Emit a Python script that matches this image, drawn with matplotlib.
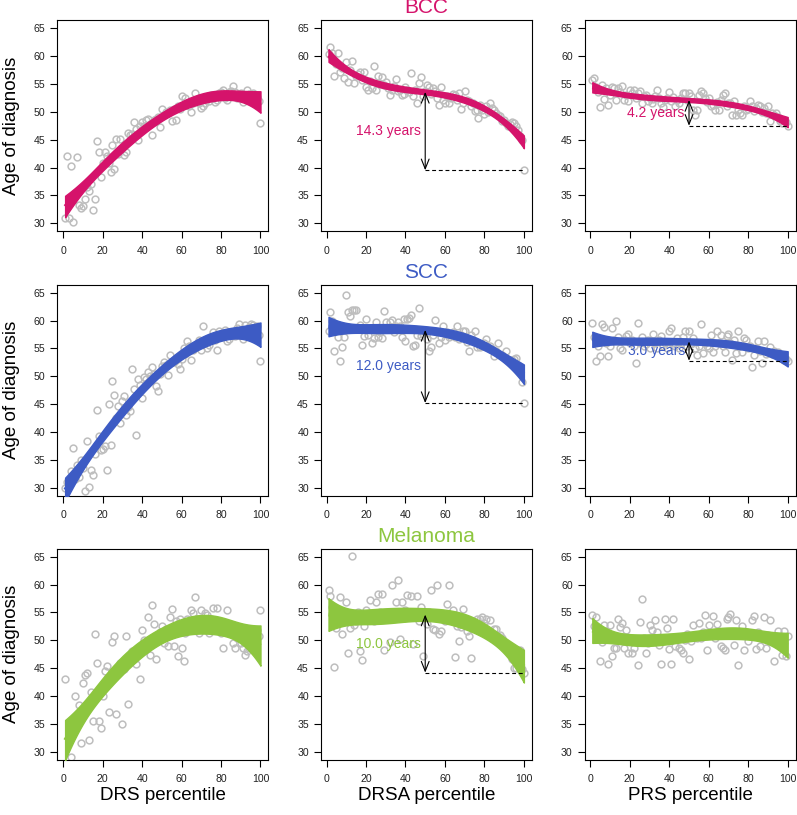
import numpy as np
import matplotlib
matplotlib.use("Agg")
import matplotlib.pyplot as plt

plt.rcParams['font.family'] = ['Liberation Sans', 'DejaVu Sans']

# percentile (x) for every panel
pct = list(range(1, 101))

# mean age of diagnosis per percentile
bcc_drs = [30.9, 42.0, 31.0, 40.3, 30.2, 35.5, 41.8, 33.2, 32.7, 33.0,
           34.4, 36.5, 35.8, 37.0, 32.3, 34.4, 44.8, 42.8, 38.3, 40.8,
           42.8, 42.0, 40.8, 39.2, 44.0, 39.7, 45.2, 42.5, 45.2, 43.5,
           42.2, 42.8, 46.2, 45.8, 46.0, 48.1, 47.0, 45.0, 47.5, 48.2,
           47.5, 48.5, 48.8, 47.8, 45.9, 48.5, 48.8, 49.0, 47.2, 50.5,
           49.5, 50.0, 49.8, 50.3, 48.3, 50.5, 48.5, 51.0, 50.5, 52.8,
           51.2, 52.5, 51.5, 51.0, 50.0, 51.5, 53.3, 52.0, 51.5, 50.6,
           51.0, 51.5, 52.5, 52.0, 53.0, 52.5, 51.8, 52.2, 53.3, 53.6,
           54.0, 52.5, 52.2, 53.5, 53.8, 54.6, 53.5, 52.4, 53.0, 53.3,
           51.8, 53.0, 54.0, 53.2, 52.8, 53.3, 53.0, 52.7, 52.0, 48.0]
bcc_drsa = [60.3, 61.7, 60.5, 56.4, 58.5, 60.5, 57.1, 57.9, 56.0, 58.9,
            55.3, 57.5, 59.2, 55.2, 56.4, 56.8, 57.2, 55.8, 57.1, 54.5,
            54.0, 55.5, 54.2, 58.2, 53.9, 56.4, 55.0, 56.2, 54.8, 55.3,
            54.3, 53.1, 54.0, 54.6, 55.9, 53.8, 54.0, 53.0, 53.2, 54.5,
            54.0, 53.5, 56.9, 52.8, 54.0, 51.6, 55.2, 56.3, 52.8, 53.7,
            54.8, 54.5, 53.2, 54.3, 53.7, 52.5, 51.3, 54.5, 52.2, 51.6,
            52.8, 51.6, 52.5, 53.2, 53.0, 52.2, 53.3, 50.5, 51.6, 53.7,
            52.2, 52.0, 51.0, 51.5, 50.1, 50.4, 48.9, 51.2, 50.4, 49.6,
            51.0, 50.0, 51.6, 50.7, 50.4, 49.8, 49.5, 49.2, 48.3, 48.5,
            48.0, 47.5, 47.8, 48.1, 48.0, 47.4, 46.8, 45.6, 45.0, 39.5]
bcc_prs = [55.8, 56.0, 54.5, 53.5, 50.8, 54.8, 52.3, 54.3, 51.3, 53.0,
           54.5, 54.2, 52.2, 54.3, 53.5, 54.6, 52.2, 53.0, 52.0, 54.0,
           53.4, 54.0, 52.5, 53.4, 53.7, 51.6, 52.8, 53.0, 52.0, 52.5,
           51.6, 52.3, 52.8, 53.9, 52.5, 51.6, 50.9, 52.2, 52.5, 53.6,
           52.0, 52.6, 51.0, 52.2, 51.5, 52.5, 53.3, 53.4, 52.2, 53.4,
           52.8, 50.4, 49.5, 50.4, 53.1, 53.7, 53.4, 52.4, 51.8, 52.5,
           51.0, 51.3, 50.4, 51.8, 50.4, 52.2, 53.1, 53.3, 51.0, 51.5,
           51.6, 49.5, 51.9, 49.5, 50.4, 49.8, 49.5, 51.0, 50.4, 50.5,
           51.9, 51.0, 50.2, 50.7, 51.2, 51.0, 50.0, 50.7, 49.8, 51.0,
           48.3, 49.8, 49.5, 49.8, 49.0, 48.3, 48.0, 48.6, 48.2, 47.5]
scc_drs = [30.0, 31.0, 30.5, 33.0, 37.1, 31.5, 34.0, 32.0, 35.0, 33.5,
           29.4, 38.4, 30.2, 33.1, 32.3, 36.0, 43.9, 39.3, 36.7, 37.0,
           37.4, 33.1, 45.1, 37.6, 49.1, 46.7, 42.5, 44.7, 41.6, 45.5,
           46.4, 43.0, 44.5, 43.7, 51.4, 47.8, 39.5, 49.6, 48.5, 46.1,
           49.9, 49.5, 50.8, 50.0, 51.7, 50.5, 48.2, 47.4, 50.5, 51.8,
           52.6, 52.0, 50.3, 53.9, 52.5, 52.6, 53.0, 52.2, 51.3, 53.2,
           55.0, 54.0, 56.3, 55.5, 53.0, 54.7, 55.2, 55.8, 56.5, 54.7,
           59.1, 56.0, 55.0, 55.7, 57.0, 58.0, 56.5, 54.7, 58.1, 57.0,
           57.5, 58.4, 56.3, 56.7, 57.5, 58.0, 57.3, 58.6, 59.4, 58.0,
           56.7, 59.2, 58.0, 58.9, 59.4, 59.3, 58.2, 59.0, 57.5, 52.8]
scc_drsa = [58.1, 61.5, 60.0, 54.6, 58.5, 57.0, 52.7, 55.2, 57.0, 64.6,
            61.5, 60.9, 62.0, 62.0, 62.0, 58.5, 59.3, 55.7, 57.2, 60.3,
            57.5, 58.5, 56.0, 56.9, 59.8, 57.0, 58.0, 56.9, 61.8, 59.8,
            58.5, 59.8, 60.2, 58.0, 59.1, 59.7, 59.1, 57.0, 60.3, 56.4,
            60.3, 60.4, 61.0, 55.5, 55.6, 57.5, 62.2, 57.2, 57.6, 58.0,
            56.7, 54.6, 55.2, 57.5, 60.2, 57.9, 55.9, 57.0, 59.1, 56.6,
            58.0, 57.0, 57.4, 58.0, 57.0, 59.1, 56.7, 57.5, 58.2, 58.1,
            56.2, 54.6, 57.4, 56.5, 58.2, 55.2, 56.0, 55.2, 55.5, 56.0,
            56.7, 55.2, 55.5, 54.9, 53.6, 54.5, 55.9, 53.8, 53.8, 53.5,
            54.6, 52.9, 53.0, 52.9, 53.2, 53.3, 52.0, 51.0, 49.0, 45.2]
scc_prs = [59.5, 57.0, 52.7, 55.5, 53.6, 59.4, 58.8, 56.0, 53.6, 55.5,
           58.7, 56.5, 59.9, 57.0, 55.0, 54.8, 56.5, 57.3, 57.6, 56.0,
           56.5, 55.5, 52.4, 59.6, 56.0, 57.0, 55.5, 55.8, 56.5, 55.0,
           56.2, 57.6, 56.0, 55.0, 56.5, 57.3, 55.5, 56.0, 55.0, 58.2,
           58.7, 56.0, 55.5, 56.8, 55.0, 56.0, 57.0, 58.1, 55.5, 58.1,
           55.8, 56.8, 55.0, 53.9, 55.5, 59.4, 54.2, 56.0, 55.5, 55.0,
           57.4, 54.4, 55.5, 58.1, 56.0, 57.4, 55.5, 54.4, 57.3, 57.6,
           56.0, 52.9, 56.5, 54.1, 58.2, 55.5, 54.4, 56.9, 56.5, 55.0,
           55.5, 51.7, 53.8, 55.0, 56.3, 54.5, 52.4, 56.3, 54.0, 54.4,
           55.3, 54.0, 54.6, 54.0, 54.4, 53.5, 53.8, 53.0, 53.2, 52.8]
mel_drs = [43.1, 27.0, 25.5, 29.0, 27.5, 40.0, 36.2, 38.4, 31.5, 42.4,
           43.7, 44.2, 32.1, 40.7, 35.5, 51.1, 46.0, 35.6, 34.2, 40.0,
           44.5, 45.4, 37.1, 43.0, 49.7, 50.7, 36.8, 44.5, 46.0, 35.0,
           44.8, 50.7, 38.6, 47.0, 48.0, 46.7, 45.8, 48.5, 43.0, 51.8,
           50.0, 48.5, 54.2, 47.3, 56.3, 53.0, 46.7, 50.5, 51.5, 52.5,
           49.5, 52.1, 48.9, 54.2, 55.7, 48.9, 53.5, 47.1, 53.9, 48.6,
           46.3, 51.4, 53.9, 52.5, 55.4, 54.9, 57.8, 53.9, 51.3, 55.4,
           53.9, 54.9, 54.5, 51.3, 53.9, 55.8, 52.0, 55.8, 53.3, 51.3,
           48.6, 52.0, 55.4, 51.5, 52.7, 49.5, 48.7, 50.5, 51.6, 49.5,
           48.6, 47.4, 48.1, 48.6, 49.3, 49.6, 50.0, 51.9, 50.8, 55.4]
mel_drsa = [59.0, 58.0, 56.0, 45.3, 52.3, 55.5, 57.8, 51.2, 54.5, 56.9,
            47.8, 52.3, 65.2, 52.8, 53.5, 55.0, 48.1, 46.4, 52.6, 55.5,
            54.0, 57.2, 54.5, 53.5, 56.9, 58.4, 55.0, 58.4, 48.2, 54.5,
            53.8, 49.7, 59.9, 55.0, 56.9, 60.8, 50.2, 56.9, 54.0, 55.5,
            58.2, 54.5, 58.0, 49.3, 55.0, 58.0, 53.5, 56.0, 47.1, 54.5,
            53.0, 55.0, 59.0, 52.0, 51.9, 60.0, 51.2, 51.7, 53.8, 53.5,
            56.6, 60.0, 54.0, 55.4, 47.0, 52.6, 49.9, 52.4, 55.7, 53.0,
            51.7, 50.8, 46.9, 52.5, 53.0, 53.8, 52.0, 53.9, 54.2, 53.2,
            53.9, 51.5, 53.6, 50.5, 52.0, 52.1, 50.8, 51.0, 50.5, 49.5,
            49.0, 48.5, 48.7, 46.7, 45.1, 45.1, 45.7, 48.3, 44.8, 44.2]
mel_prs = [54.5, 52.6, 54.1, 51.0, 46.3, 49.7, 52.7, 51.5, 45.8, 52.8,
           47.1, 48.6, 48.7, 53.9, 52.4, 53.2, 48.7, 51.8, 47.8, 50.5,
           47.7, 48.6, 50.0, 45.5, 53.3, 57.5, 50.5, 47.8, 49.5, 52.8,
           51.9, 50.0, 53.7, 51.5, 49.2, 45.8, 50.5, 53.9, 52.2, 48.5,
           45.8, 53.9, 48.9, 50.5, 48.7, 48.3, 47.7, 50.0, 51.2, 46.6,
           49.8, 52.7, 51.0, 50.5, 53.2, 50.5, 51.5, 54.5, 48.3, 52.8,
           51.0, 54.4, 50.5, 53.0, 51.0, 48.9, 48.6, 48.3, 53.9, 54.1,
           54.7, 51.5, 49.2, 53.6, 45.5, 51.0, 52.6, 48.3, 51.5, 49.9,
           51.0, 53.6, 54.4, 48.5, 51.5, 48.9, 50.5, 54.1, 48.6, 51.0,
           53.7, 50.5, 46.3, 49.5, 51.7, 49.0, 47.4, 51.7, 47.1, 50.7]

cancers = ['BCC', 'SCC', 'Melanoma']
colors = ['#D5136B', '#3D5BC4', '#8DC63F']
scores = ['DRS', 'DRSA', 'PRS']
rows = [[bcc_drs, bcc_drsa, bcc_prs],
        [scc_drs, scc_drsa, scc_prs],
        [mel_drs, mel_drsa, mel_prs]]
# arrow labels (None = no arrow)
gap_labels = [[None, '14.3 years', '4.2 years'],
              [None, '12.0 years', '3.0 years'],
              [None, '10.0 years', None]]


def cubic_band(x, y, xs):
    X = np.vander(x, 4)
    beta, _, _, _ = np.linalg.lstsq(X, y, rcond=None)
    resid = y - X @ beta
    s2 = resid @ resid / (len(y) - 4)
    cov = s2 * np.linalg.inv(X.T @ X)
    Xs = np.vander(xs, 4)
    fit = Xs @ beta
    se = np.sqrt(np.einsum('ij,jk,ik->i', Xs, cov, Xs))
    return fit, se, beta


fig = plt.figure(figsize=(7.97, 8.15), dpi=100)
W, H = 797.0, 815.0
lefts = [57.3, 320.7, 584.5]
tops = [20.5, 285.0, 549.0]
aw, ah = 211.0, 210.5

x = np.array(pct, dtype=float)
xs = np.linspace(1, 100, 200)

for r in range(3):
    for c in range(3):
        ax = fig.add_axes([lefts[c] / W, 1 - (tops[r] + ah) / H, aw / W, ah / H])
        y = np.array(rows[r][c])
        col = colors[r]
        ax.plot(x, y, 'o', mfc='none', mec='#BEBEBE', ms=4.9, mew=1.1, zorder=2)
        fit, se, beta = cubic_band(x, y, xs)
        lo = fit - 2.3 * se
        hi = fit + 2.3 * se
        ax.fill_between(xs, lo, hi, color=col, lw=1.0, edgecolor=col, zorder=3)
        ax.plot(xs, fit, color=col, lw=2.7, solid_capstyle='butt', zorder=3)

        lab = gap_labels[r][c]
        if lab is not None:
            top = np.polyval(beta, 50.0)
            bot = y[-1]
            ax.plot([50, 100], [bot, bot], color='black', lw=0.8,
                    dashes=(3.5, 2.5), zorder=4)
            ax.annotate('', xy=(50, top), xytext=(50, bot),
                        arrowprops=dict(arrowstyle='<->,head_length=0.7,head_width=0.28',
                                        color='black', lw=0.8, shrinkA=0, shrinkB=0),
                        zorder=5)
            ax.annotate(lab, xy=(50, (top + bot) / 2), xytext=(-3, 0),
                        textcoords='offset points', ha='right', va='center',
                        fontsize=10, color=col, zorder=6)

        ax.set_xlim(1 - 0.04 * 99, 100 + 0.04 * 99)
        ax.set_ylim(30 - 0.04 * 35, 65 + 0.04 * 35)
        ax.set_xticks([0, 20, 40, 60, 80, 100])
        ax.set_yticks([30, 35, 40, 45, 50, 55, 60, 65])
        ax.tick_params(direction='out', length=5, width=0.8, labelsize=7.6,
                       color='black', labelcolor='#222222')
        ax.tick_params(axis='x', pad=5.5)
        ax.tick_params(axis='y', pad=3.5)
        for sp in ax.spines.values():
            sp.set_linewidth(0.8)
        if c == 0:
            fig.text(12 / W, 1 - (tops[r] + ah / 2) / H, 'Age of diagnosis',
                     rotation=90, ha='center', va='center', fontsize=13.5)
        if c == 1:
            ax.text(0.5, 1 + 12.5 / ah, cancers[r], transform=ax.transAxes,
                    ha='center', va='center', fontsize=15, color=col)
        if r == 2:
            fig.text((lefts[c] + aw / 2) / W, 1 - 795 / H, scores[c] + ' percentile',
                     ha='center', va='center', fontsize=13.5)

fig.savefig('out.png', dpi=100)
